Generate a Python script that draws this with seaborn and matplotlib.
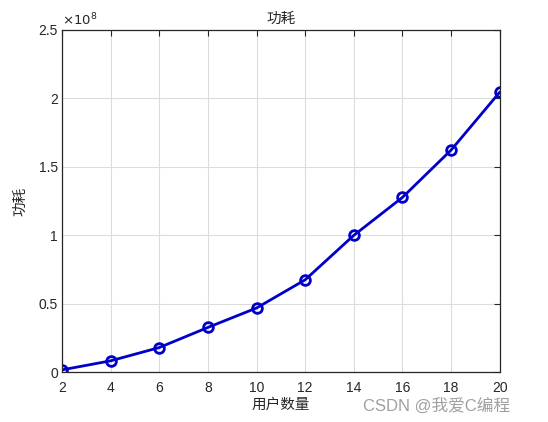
import matplotlib
matplotlib.use("Agg")
import matplotlib.pyplot as plt
import seaborn as sns
import pandas as pd
from matplotlib.ticker import FuncFormatter, MultipleLocator

users = [2, 4, 6, 8, 10, 12, 14, 16, 18, 20]
power = [0.017e8, 0.083e8, 0.18e8, 0.327e8, 0.469e8, 0.675e8, 1.0e8, 1.277e8, 1.623e8, 2.046e8]

sns.set_style("white")
plt.rcParams['font.family'] = ['Liberation Sans', 'Noto Sans CJK SC', 'DejaVu Sans']

df = pd.DataFrame({"users": users, "power": power})

fig = plt.figure(figsize=(5.48, 4.22), dpi=100)
ax = fig.add_axes([0.113, 0.118, 0.799, 0.811])

sns.lineplot(data=df, x="users", y="power", ax=ax, color="#0000C8", linewidth=2,
             marker="o", markersize=7, markerfacecolor="none",
             markeredgecolor="#0000C8", markeredgewidth=2)

ax.set_xlim(2, 20)
ax.set_ylim(0, 2.5e8)
ax.xaxis.set_major_locator(MultipleLocator(2))
ax.yaxis.set_major_locator(MultipleLocator(0.5e8))
ax.yaxis.set_major_formatter(FuncFormatter(lambda v, p: f"{v/1e8:g}"))
ax.grid(True, color="#dcdcdc", linewidth=0.8)
for s in ax.spines.values():
    s.set_color("#262626")
    s.set_linewidth(0.9)
ax.tick_params(direction="in", top=True, right=True, length=4, width=0.8,
               labelsize=10, colors="#262626", labelcolor="#262626")
ax.tick_params(axis="x", pad=6)
ax.tick_params(axis="y", pad=3)

ax.set_title("功耗", fontsize=10.5, color="#262626", pad=5)
ax.set_xlabel("用户数量", fontsize=10.5, color="#262626", labelpad=2)
ax.set_ylabel("功耗", fontsize=10.5, color="#262626", labelpad=8)
ax.text(0.0, 1.005, r"$\times10^{8}$", transform=ax.transAxes, fontsize=9.5,
        color="#262626", ha="left", va="bottom")

fig.text(0.93, 0.02, "CSDN @我爱C编程", fontsize=12, color="#a0a0a0",
         ha="right", va="bottom")

fig.savefig("out.png", dpi=100, facecolor="white")
